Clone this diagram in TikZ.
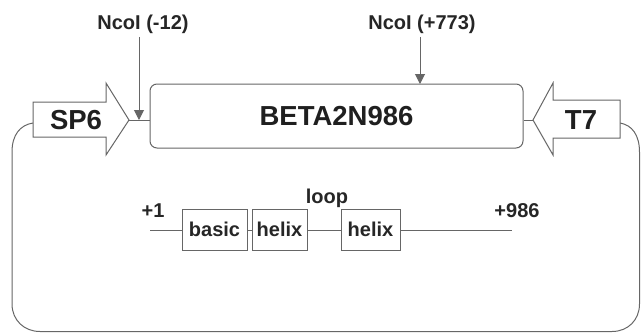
\documentclass[tikz,border=0pt]{standalone}
\usepackage{fontspec}
\setmainfont{Liberation Sans}
\usetikzlibrary{arrows.meta}
\begin{document}
\begin{tikzpicture}[x=1pt,y=-1pt]
\tikzset{
  ln/.style={draw=black!60, line width=1pt},
  bigtxt/.style={font=\fontsize{27.5}{28}\selectfont\bfseries, text=black!88, inner sep=0pt},
  smalltxt/.style={font=\fontsize{20}{21}\selectfont\bfseries, text=black!85},
  dombox/.style={ln, fill=white, minimum height=41pt, inner sep=0pt, font=\fontsize{20}{21}\selectfont\bfseries, text=black!85},
  cutarrow/.style={ln, -{Triangle[width=10pt,length=10pt]}}
}
\useasboundingbox (0,0) rectangle (641,333);

% vector loop
\draw[ln] (33,123) .. controls (20,125) and (12,135) .. (12,152) -- (12,304)
  .. controls (12,320) and (24,331.5) .. (40,331.5) -- (612,331.5)
  .. controls (628,331.5) and (639.5,320) .. (639.5,304) -- (639.5,152)
  .. controls (639.5,135) and (632,125) .. (620,123);

% promoter arrows
\draw[ln, fill=white] (33,102) -- (106,102) -- (106,83) -- (129,120) -- (106,155) -- (106,137) -- (33,137) -- cycle;
\node[bigtxt] (sp6) at (76,120) {SP6};
\coordinate (sp6tip) at (129,120);

\draw[ln, fill=white] (620,100) -- (553,100) -- (553,83) -- (533,120) -- (553,155) -- (553,138) -- (620,138) -- cycle;
\node[bigtxt] (t7) at (581,120) {T7};
\coordinate (t7tip) at (533,120);

% insert
\node[ln, rounded corners=7pt, minimum width=373pt, minimum height=64pt, bigtxt] (beta) at (336.5,116) {BETA2N986};
\draw[ln] (sp6tip) -- (beta.west |- sp6tip);
\draw[ln] (t7tip) -- (beta.east |- t7tip);

% restriction sites
\node[smalltxt] (n1) at (143,24) {NcoI (-12)};
\coordinate (cut1) at (139,120);
\draw[cutarrow] (n1.south -| cut1) -- (cut1);

\node[smalltxt] (n2) at (422,24) {NcoI (+773)};
\coordinate (cut2) at (420,84);
\draw[cutarrow] (n2.south -| cut2) -- (cut2);

% domain map
\coordinate (lstart) at (150,230);
\coordinate (lend) at (512,230);
\node[dombox, minimum width=65pt] (basic) at (214.5,229.5) {basic};
\node[dombox, minimum width=55pt] (helixa) at (279.5,229.5) {helix};
\node[dombox, minimum width=59pt] (helixb) at (370.5,229.5) {helix};
\draw[ln] (lstart) -- (basic.west |- lstart);
\draw[ln] (basic.east |- lstart) -- (helixa.west |- lstart);
\draw[ln] (helixa.east |- lstart) -- (helixb.west |- lstart);
\draw[ln] (helixb.east |- lstart) -- (lend);

\node[smalltxt] (p1) at (153,211) {+1};
\node[smalltxt] (loop) at (327,198) {loop};
\node[smalltxt] (p986) at (517,211) {+986};
\end{tikzpicture}
\end{document}
